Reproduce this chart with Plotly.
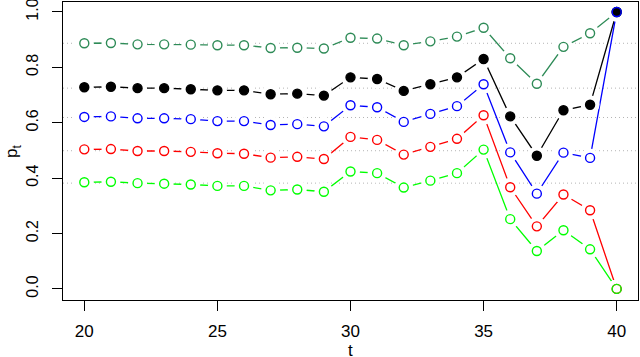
import plotly.graph_objects as go

# time points
t = list(range(20, 41))

# series
p_seagreen = [0.887, 0.888, 0.883, 0.883, 0.882, 0.880, 0.880, 0.870, 0.871, 0.868,
              0.907, 0.904, 0.880, 0.894, 0.911, 0.943, 0.833, 0.741, 0.874, 0.923, 1.0]
p_black = [0.728, 0.730, 0.725, 0.725, 0.721, 0.717, 0.717, 0.703, 0.705, 0.698,
           0.764, 0.758, 0.715, 0.739, 0.764, 0.830, 0.623, 0.481, 0.645, 0.665, 1.0]
p_blue = [0.621, 0.623, 0.616, 0.616, 0.613, 0.606, 0.606, 0.592, 0.595, 0.587,
          0.663, 0.656, 0.603, 0.632, 0.660, 0.739, 0.493, 0.344, 0.492, 0.473, 1.0]
p_red = [0.504, 0.505, 0.498, 0.498, 0.495, 0.490, 0.488, 0.474, 0.477, 0.469,
         0.549, 0.538, 0.485, 0.513, 0.542, 0.627, 0.367, 0.226, 0.341, 0.284, 0.0]
p_green = [0.385, 0.387, 0.382, 0.380, 0.377, 0.372, 0.372, 0.356, 0.359, 0.351,
           0.424, 0.418, 0.366, 0.391, 0.418, 0.503, 0.252, 0.137, 0.212, 0.143, 0.0]

# dotted reference levels
ref_levels = [0.887, 0.725, 0.619, 0.499, 0.382]

x_ticks = [20, 25, 30, 35, 40]
y_ticks = [0.0, 0.2, 0.4, 0.6, 0.8, 1.0]

series = [
    (p_seagreen, "#2E8B57", "circle-open"),
    (p_black, "black", "circle"),
    (p_blue, "#0000FF", "circle-open"),
    (p_red, "#FF0000", "circle-open"),
    (p_green, "#00FF00", "circle-open"),
]

font = "Liberation Sans, Arial, Helvetica, sans-serif"

fig = go.Figure()

# lines first
for y, col, sym in series:
    fig.add_trace(go.Scatter(x=t, y=y, mode="lines",
                             line=dict(color=col, width=1.3), showlegend=False))

# white blobs to mimic the gaps of R's type="b"
for y, col, sym in series:
    fig.add_trace(go.Scatter(x=t, y=y, mode="markers",
                             marker=dict(symbol="circle", size=19, color="white",
                                         line=dict(width=0)),
                             showlegend=False))

# point symbols on top
for y, col, sym in series:
    fig.add_trace(go.Scatter(x=t, y=y, mode="markers",
                             marker=dict(symbol=sym, size=9, color=col,
                                         line=dict(color=col, width=1.4)),
                             showlegend=False))

for lv in ref_levels:
    fig.add_shape(type="line", xref="paper", x0=0, x1=1, yref="y", y0=lv, y1=lv,
                  line=dict(color="#B4B4B4", width=1, dash="1px,3px"), layer="below")

# axis titles, placed by hand
fig.add_annotation(text="p<sub>t</sub>", xref="paper", yref="paper",
                   x=-0.087, y=0.5, xanchor="center", yanchor="middle",
                   textangle=-90, showarrow=False, font=dict(size=17))
fig.add_annotation(text="t", xref="paper", yref="paper",
                   x=0.5, y=-0.168, xanchor="center", yanchor="middle",
                   showarrow=False, font=dict(size=17))

fig.update_layout(
    width=640, height=357,
    margin=dict(l=63, r=2, t=2, b=57),
    paper_bgcolor="white", plot_bgcolor="white",
    font=dict(family=font, size=17, color="black"),
    showlegend=False,
)

fig.update_xaxes(
    range=[19.2, 40.8], tickvals=x_ticks, ticks="outside", ticklen=10,
    tickcolor="black", showgrid=False, zeroline=False, automargin=False,
    showline=True, linecolor="black", linewidth=1, mirror=True,
    tickfont=dict(size=17), ticklabeloverflow="allow", ticklabelstandoff=6,
)
fig.update_yaxes(
    range=[-0.04, 1.036], tickvals=y_ticks, tickformat=".1f", ticks="outside",
    ticklen=10, tickcolor="black", tickangle=-90, showgrid=False, zeroline=False,
    automargin=False,
    showline=True, linecolor="black", linewidth=1, mirror=True,
    tickfont=dict(size=16), ticklabeloverflow="allow", ticklabelstandoff=8,
)

# the page body has a default 8px margin; drop it so the figure sits at 0,0
fig.write_html("out.html", config={"displayModeBar": False},
               post_script="document.body.style.margin='0px';")
